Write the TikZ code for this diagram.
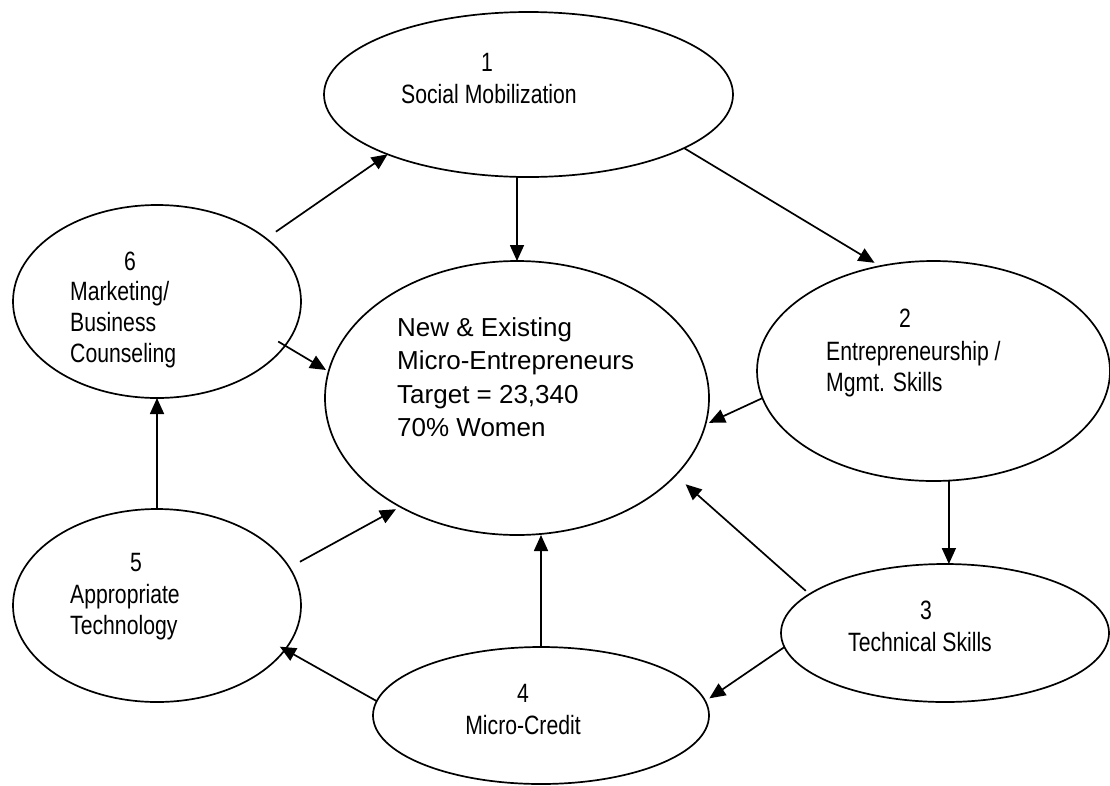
\documentclass[tikz,border=0pt]{standalone}
\usepackage{fontspec}
\setmainfont{Liberation Sans}
\newfontfamily\narrowfont{Liberation Sans}[FakeStretch=0.8]
\usetikzlibrary{arrows.meta,shapes.geometric}
\begin{document}
\begin{tikzpicture}[x=1pt,y=-1pt,
  bubble/.style={ellipse,draw,line width=1.7pt,inner sep=0pt,outer sep=0pt},
  conn/.style={line width=1.7pt,-{Triangle[length=16pt,width=14pt]}},
  num/.style={font=\narrowfont\fontsize{26.5}{31}\selectfont,inner sep=0pt},
  lab/.style={font=\narrowfont\fontsize{26.5}{31}\selectfont,inner sep=0pt},
  labml/.style={font=\narrowfont\fontsize{26.5}{31}\selectfont,inner sep=0pt,align=left,anchor=north west},
  core/.style={font=\fontsize{26}{33.5}\selectfont,inner sep=0pt,align=left,anchor=north west}]
\useasboundingbox (0,0) rectangle (1110,785);
% ellipses
\node[bubble,minimum width=409pt,minimum height=165pt] (e1) at (528.5,94.5) {};
\node[bubble,minimum width=384pt,minimum height=274pt] (c) at (517,398) {};
\node[bubble,minimum width=353pt,minimum height=220pt] (e2) at (933.5,371) {};
\node[bubble,minimum width=328pt,minimum height=138pt] (e3) at (945,633) {};
\node[bubble,minimum width=336pt,minimum height=137pt] (e4) at (541,715.5) {};
\node[bubble,minimum width=288pt,minimum height=193pt] (e5) at (157,605.5) {};
\node[bubble,minimum width=288pt,minimum height=193pt] (e6) at (157,301.5) {};
% texts
\node[num] (n1) at (487,62) {1};
\node[lab,anchor=base] (l1) at (489,103) {Social Mobilization};
\node[num] (n2) at (905,318) {2};
\node[labml] (l2) at (826,341) {Entrepreneurship /\\Mgmt. Skills};
\node[num] (n3) at (926,610) {3};
\node[lab,anchor=base] (l3) at (920,651) {Technical Skills};
\node[num] (n4) at (523,693) {4};
\node[lab,anchor=base] (l4) at (523,734) {Micro-Credit};
\node[num] (n5) at (136,563) {5};
\node[labml] (l5) at (70,584) {Appropriate\\Technology};
\node[num] (n6) at (130,261) {6};
\node[labml] (l6) at (70,281) {Marketing/\\Business\\Counseling};
\node[core] (ct) at (397,317.3) {New \& Existing\\Micro-Entrepreneurs\\Target = 23,340\\70\% Women};
% connectors
\draw[conn,shorten <=12pt] (e6.30) -- (e1.-157);
\draw[conn] (c.north |- e1.south) -- (c.north);
\draw[conn,shorten >=6.5pt] (e1.-19) -- (e2.117);
\draw[conn,shorten <=-8pt,shorten >=3pt] (e6.-19) -- (c.172);
\draw[conn,shorten >=4pt] (e2.-171) -- (c.-8);
\draw[conn] (e2.-82) -- (e2.-82 |- e3.north);
\draw[conn,shorten <=5pt,shorten >=13.5pt] (e3.164) -- (c.-26);
\draw[conn,shorten >=5pt] (e3.-175) -- (e4.5);
\draw[conn] (e4.north) -- (e4.north |- c.south);
\draw[conn,shorten >=-6pt] (e4.175) -- (e5.-19);
\draw[conn,shorten <=12pt,shorten >=5pt] (e5.16) -- (c.-137);
\draw[conn] (e5.north) -- (e6.south);
\end{tikzpicture}
\end{document}
